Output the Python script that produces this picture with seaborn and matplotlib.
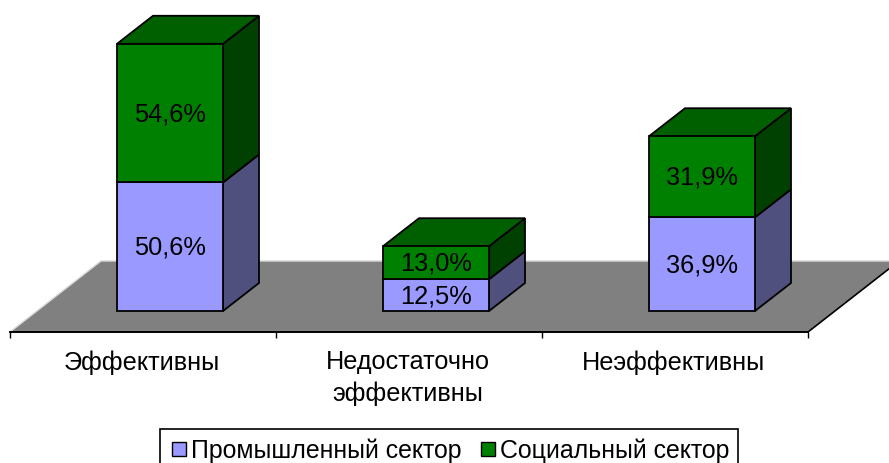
import matplotlib
matplotlib.use("Agg")
import matplotlib.pyplot as plt
from matplotlib.patches import Patch, Polygon, Rectangle
from matplotlib.legend_handler import HandlerPatch
import numpy as np
import seaborn as sns

categories = ["Эффективны", "Недостаточно\nэффективны", "Неэффективны"]
industrial = [50.6, 12.5, 36.9]
social = [54.6, 13.0, 31.9]
series_names = ["Промышленный сектор", "Социальный сектор"]

sns.set_theme(style="white")
plt.rcParams["font.family"] = ["Liberation Sans", "DejaVu Sans"]

W, H = 889, 464
PX_X = 266.0          # pixels per category
PX_Y = 2.54           # pixels per percent
X0, Y0 = 170.0, 312.0 # pixel of first category centre / baseline
BAR_W = 106 / PX_X
DX, DY = 36 / PX_X, 28 / PX_Y        # bar depth
FLOOR_DROP = 21 / PX_Y               # floor front edge below the bars
SHIFT = 28 / PX_X                    # axis category centre vs. bar centre
FS = 18.2
FS_LEGEND = 17.95

fig = plt.figure(figsize=(W / 100, H / 100), dpi=100)
ax = fig.add_axes([0, 0, 1, 1])
ax.patch.set_alpha(0)

C_IND, C_IND_SIDE = "#9999FF", "#50507F"
C_SOC, C_SOC_SIDE, C_SOC_TOP = "#008000", "#004000", "#006000"

bar_kw = dict(width=BAR_W, saturation=1, edgecolor="black", linewidth=1.3, zorder=3, ax=ax)
sns.barplot(x=list(range(3)), y=industrial, color=C_IND, **bar_kw)
sns.barplot(x=list(range(3)), y=social, bottom=industrial, color=C_SOC, **bar_kw)

ax.set_xlim(-X0 / PX_X, (W - X0) / PX_X)
ax.set_ylim(-(H - Y0) / PX_Y, Y0 / PX_Y)

# side and top faces, derived from the values
line = dict(edgecolor="black", linewidth=1.3, zorder=2)
for i, (a, b) in enumerate(zip(industrial, social)):
    r = i + BAR_W / 2
    l = i - BAR_W / 2
    ax.add_patch(Polygon([(r, 0), (r + DX, DY), (r + DX, a + DY), (r, a)], facecolor=C_IND_SIDE, **line))
    ax.add_patch(Polygon([(r, a), (r + DX, a + DY), (r + DX, a + b + DY), (r, a + b)], facecolor=C_SOC_SIDE, **line))
    ax.add_patch(Polygon([(l, a + b), (l + DX, a + b + DY), (r + DX, a + b + DY), (r, a + b)], facecolor=C_SOC_TOP, **line))

# floor
ticks = np.arange(4) - 0.5 - 27 / PX_X
fy = -FLOOR_DROP
back = fy + 71 / PX_Y
skew = 91 / PX_X
ax.add_patch(Polygon([(ticks[0], fy), (ticks[0] + skew, back), (ticks[-1] + skew, back), (ticks[-1], fy)],
                     facecolor="#808080", edgecolor="none", zorder=1))
ax.plot([ticks[0], ticks[0] + skew, ticks[-1] + skew], [fy, back, back], color="#D8D8D8", lw=1, zorder=1.5)
ax.plot([ticks[-1], ticks[-1] + skew], [fy, back], color="black", lw=1.2, zorder=1.5)

# bar labels
for cont, vals in zip(ax.containers, (industrial, social)):
    ax.bar_label(cont, labels=[f"{v:.1f}%".replace(".", ",") for v in vals],
                 label_type="center", fontsize=FS + 0.1, color="black", zorder=5)

# axis
sns.despine(ax=ax, left=True, top=True, right=True)
ax.yaxis.set_visible(False)
ax.spines["bottom"].set_position(("data", fy))
ax.spines["bottom"].set_bounds(ticks[0], ticks[-1])
ax.spines["bottom"].set_color("black")
ax.spines["bottom"].set_linewidth(1.4)
ax.spines["bottom"].set_zorder(2)
ax.set_xticks(ticks)
ax.set_xticklabels([])
ax.tick_params(axis="x", which="major", bottom=True, length=4.5, width=1, color="black", direction="out")
ax.set_xticks(np.arange(3) - SHIFT, labels=categories, minor=True)
ax.tick_params(axis="x", which="minor", bottom=True, length=0, pad=12.5, labelsize=FS, labelcolor="black")
for t in ax.get_xticklabels(minor=True):
    t.set_linespacing(1.38)


def square_handle(legend, orig_handle, xdescent, ydescent, width, height, fontsize):
    side = 14 * 0.72
    return Rectangle((width - xdescent - side, height / 2 - ydescent - side / 2), side, side)


handles = [Patch(facecolor=C_IND, edgecolor="black", linewidth=1),
           Patch(facecolor=C_SOC, edgecolor="black", linewidth=1)]
leg = ax.legend(handles, series_names, ncol=2, loc="lower left", bbox_to_anchor=(160 / W, -8 / H),
                bbox_transform=fig.transFigure, fontsize=FS_LEGEND, frameon=True, fancybox=False, edgecolor="black",
                framealpha=1, handlelength=0.69, handletextpad=0.2, columnspacing=0.66,
                borderpad=0.35, borderaxespad=0, labelcolor="black",
                handler_map={Patch: HandlerPatch(patch_func=square_handle)})
leg.get_frame().set_linewidth(1.2)
leg.set_zorder(6)

fig.savefig("out.png", dpi=100, facecolor="white")
